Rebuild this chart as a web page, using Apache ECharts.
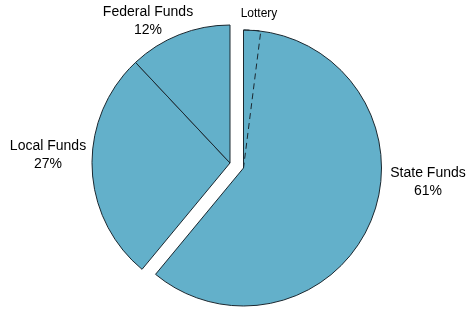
<!DOCTYPE html>
<html>
<head>
<meta charset="utf-8">
<script src="https://cdn.jsdelivr.net/npm/echarts@6/dist/echarts.min.js"></script>
<style>html,body{margin:0;padding:0;background:#fff}#c{width:476px;height:313px}</style>
</head>
<body>
<div id="c"></div>
<script>
const categories = ['State Funds', 'Local Funds', 'Federal Funds'];
const shares = [61, 27, 12];
const lotteryName = 'Lottery';
const lotteryShare = 2;

const fill = '#63b0ca';
const edge = '#1b2830';
const font = 'Liberation Sans, Arial, Helvetica, sans-serif';

const hidden = { itemStyle: { color: 'rgba(0,0,0,0)', borderWidth: 0 }, label: { show: false }, emphasis: { disabled: true } };
const labelText = p => p.name + '\n' + p.value + '%';

const chart = echarts.init(document.getElementById('c'), null, { renderer: 'canvas' });
const R = 138;
const base = {
  type: 'pie', radius: [0, R], startAngle: 90, clockwise: true, animation: false,
  avoidLabelOverlap: false, silent: true, labelLine: { show: false },
  emphasis: { disabled: true }
};
const pos = {
  'Federal Funds': [148, 21],
  'Local Funds': [48, 155],
  'State Funds': [428, 182],
  'Lottery': [259, 14]
};
const layout = p => {
  const n = p.text ? (p.text.split('\n')[0]) : '';
  const xy = pos[n];
  if (!xy) return {};
  return { x: xy[0], y: xy[1], align: 'center', verticalAlign: 'middle' };
};

chart.setOption({
  backgroundColor: '#fff',
  series: [
    Object.assign({}, base, {
      center: [230, 163],
      label: { show: true, position: 'outside', formatter: labelText, fontFamily: font, fontSize: 14, color: '#000', lineHeight: 18 },
      labelLayout: layout,
      itemStyle: { color: fill, borderColor: edge, borderWidth: 1 },
      data: [
        Object.assign({ name: 'placeholder', value: shares[0] }, hidden),
        { name: categories[1], value: shares[1] },
        { name: categories[2], value: shares[2] }
      ]
    }),
    Object.assign({}, base, {
      center: [243.5, 168],
      label: { show: true, position: 'outside', formatter: labelText, fontFamily: font, fontSize: 14, color: '#000', lineHeight: 18 },
      labelLayout: layout,
      itemStyle: { color: fill, borderColor: edge, borderWidth: 1 },
      data: [
        { name: categories[0], value: shares[0] },
        Object.assign({ name: 'placeholder', value: 100 - shares[0] }, hidden)
      ]
    }),
    Object.assign({}, base, {
      center: [243.5, 168],
      label: { show: true, position: 'outside', formatter: p => p.name, fontFamily: font, fontSize: 12, color: '#000' },
      labelLayout: layout,
      itemStyle: { color: 'rgba(0,0,0,0)', borderColor: edge, borderWidth: 1, borderType: [6, 4] },
      data: [
        { name: lotteryName, value: lotteryShare },
        Object.assign({ name: 'placeholder', value: 100 - lotteryShare }, hidden)
      ]
    })
  ]
});
</script>
</body>
</html>
